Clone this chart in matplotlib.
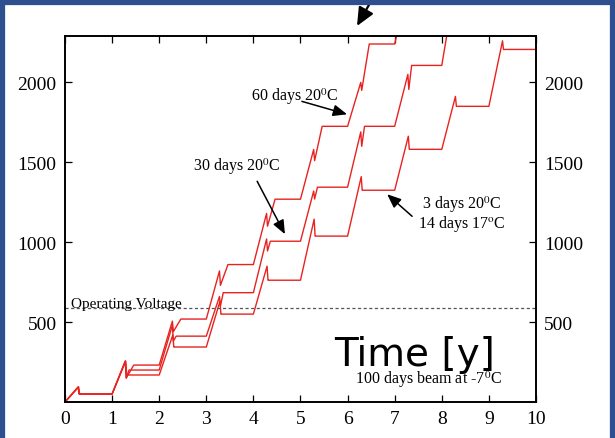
import matplotlib.pyplot as plt

plt.rcParams['font.family'] = ['Liberation Serif', 'DejaVu Serif']
plt.rcParams['mathtext.fontset'] = 'stix'

# voltage (V) per year: plateau after the beam period, spike top, spike bottom
flat_60d = [50, 231, 519, 860, 1269, 1725, 2240, 2800]
peak_60d = [94, 256, 506, 820, 1180, 1580, 2000, 2600]
dip_60d = [50, 150, 440, 730, 1100, 1510, 1950, 2550]

flat_30d = [50, 200, 412, 684, 1006, 1344, 1725, 2106, 2700]
peak_30d = [94, 256, 480, 660, 1020, 1320, 1690, 2050, 2600]
dip_30d = [50, 150, 380, 600, 945, 1270, 1600, 1956, 2550]

flat_3d = [50, 169, 344, 550, 762, 1038, 1325, 1581, 1850, 2206]
peak_3d = [94, 256, 420, 630, 850, 1144, 1410, 1663, 1912, 2260]
dip_3d = [50, 169, 344, 550, 762, 1038, 1325, 1581, 1850, 2206]

# fraction of the year: spike top, spike bottom, start of plateau
times_60d = [0.28, 0.30, 0.46]
times_30d = [0.28, 0.30, 0.36]
times_3d = [0.29, 0.31, 0.33]

operating_voltage = 590


def track(flat, peak, dip, tt):
    t, v = [0.0], [0.0]
    for n in range(len(flat)):
        t += [n + tt[0], n + tt[1], n + tt[2], n + 1]
        v += [peak[n], dip[n], flat[n], flat[n]]
    return t, v


fig = plt.figure(figsize=(6.15, 4.39), dpi=100)
ax = fig.add_axes([0.1057, 0.082, 0.7658, 0.8337])

red = '#e8231f'
for f, p, d, tt in [(flat_60d, peak_60d, dip_60d, times_60d),
                    (flat_30d, peak_30d, dip_30d, times_30d),
                    (flat_3d, peak_3d, dip_3d, times_3d)]:
    t, v = track(f, p, d, tt)
    ax.plot(t, v, color=red, lw=1.0)

ax.axhline(operating_voltage, color='#555555', lw=0.9, ls=(0, (2.5, 2)))
ax.text(0.12, operating_voltage - 15, 'Operating Voltage', fontsize=11,
        ha='left', va='bottom')

ax.set_xlim(0, 10)
ax.set_ylim(0, 2290)
ax.set_xticks(range(0, 11))
ax.set_yticks([500, 1000, 1500, 2000])
ax.tick_params(direction='in', length=5, width=0.9, labelsize=14,
               top=True, right=True, labelright=True, pad=6)
for s in ax.spines.values():
    s.set_linewidth(1.4)

arrow = dict(arrowstyle='-|>,head_width=0.25,head_length=0.6', color='black',
             lw=1.1, mutation_scale=14, shrinkA=0, shrinkB=0)

ax.text(4.88, 1919, r'60 days 20$^{\rm 0}$C', fontsize=11.5, ha='center', va='center')
ax.annotate('', xy=(5.99, 1800), xytext=(5.03, 1881), arrowprops=arrow)

ax.text(3.65, 1481, r'30 days 20$^{\rm 0}$C', fontsize=11.5, ha='center', va='center')
ax.annotate('', xy=(4.67, 1050), xytext=(4.08, 1381), arrowprops=arrow)

ax.text(8.43, 1181, '3 days 20$^{\\rm 0}$C\n14 days 17$^{\\rm o}$C', fontsize=11.5,
        ha='center', va='center', linespacing=0.95)
ax.annotate('', xy=(6.84, 1300), xytext=(7.37, 1162), arrowprops=arrow)

ax.text(7.71, 144, r'100 days beam at -7$^{\rm 0}$C', fontsize=11.5,
        ha='center', va='center')

ax.text(7.43, 300, 'Time [y]', fontsize=28, family='DejaVu Sans',
        ha='center', va='center')

# arrow above the chart
ax.annotate('', xy=(357, 412), xycoords='figure pixels',
            xytext=(374, 442), textcoords='figure pixels',
            arrowprops=dict(arrowstyle='-|>,head_width=0.45,head_length=1.0',
                            color='black', lw=1.6, mutation_scale=11,
                            shrinkA=0, shrinkB=0))

# slide frame
for xs, ys in [([0.004, 0.004], [0, 1]), ([0, 1], [0.994, 0.994]),
               ([0.996, 0.996], [0, 1])]:
    fig.add_artist(plt.Line2D(xs, ys, transform=fig.transFigure,
                              color='#2d4f8f', lw=4.5))

fig.savefig('out.png', dpi=100)
